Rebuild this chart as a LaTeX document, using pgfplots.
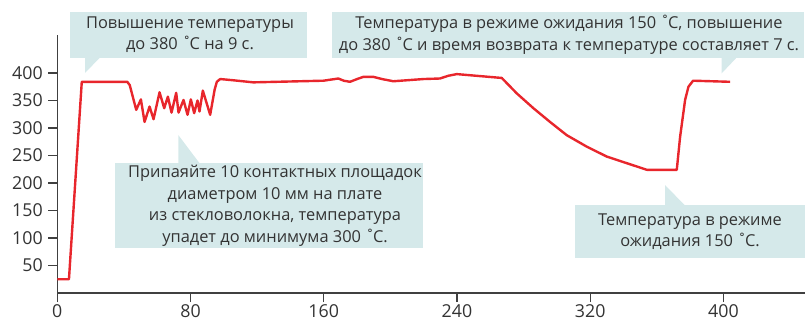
\documentclass[border=0pt]{standalone}
\usepackage{fontspec}
\setmainfont{Open Sans}
\usepackage{pgfplots}
\pgfplotsset{compat=1.18}
\definecolor{cred}{HTML}{E8262C}
\definecolor{boxcol}{HTML}{D5E9EA}
\definecolor{txtcol}{HTML}{333333}
\definecolor{axiscol}{HTML}{404040}
\newcommand{\degC}{˚\kern-1.8pt C}
\begin{document}
\begin{tikzpicture}[x=1pt,y=1pt]
\path[use as bounding box] (0,0) rectangle (805,327);
\begin{axis}[
  at={(57.3pt,34pt)}, anchor=south west, scale only axis,
  width=747.7pt, height=258.5pt,
  xmin=0, xmax=449, ymin=0, ymax=470,
  axis x line=bottom, axis y line=left,
  axis line style={-, draw=axiscol, line width=1.3pt},
  xtick={0,80,...,400}, ytick={50,100,...,400},
  tick style={draw=axiscol, line width=1.1pt},
  tick align=outside, major tick length=9pt,
  ticklabel style={font=\fontsize{17.8}{19}\selectfont, text=txtcol},
  yticklabel style={xshift=-2pt},
  xticklabel style={yshift=1pt},
  /pgf/number format/assume math mode=true,
]
\addplot[cred, line width=2.4pt, line join=round] coordinates {
(0,25) (7,25) (14.7,384) (42,384) (43.5,378) (47.4,333) (50.2,352) (52.4,311)
(55.4,339) (57.8,316) (61.4,365) (64.2,336) (66.4,357) (68.6,328) (71.4,364)
(72.8,328) (75.8,351) (78.2,324) (80.2,352) (82.2,327) (84.2,350) (85.4,330)
(87.4,368) (91.8,324) (94.5,370) (95.8,384) (97.8,389) (105,387) (117.7,383)
(131.8,384) (159.8,386) (168.8,390) (172,386) (175.8,384) (180,389) (183.8,393)
(189.8,393) (195,389) (201.8,385) (219.8,389) (229.8,390) (234.8,395) (239.9,398)
(266.9,391) (275.9,363) (285.9,336) (295.9,311) (305.9,287) (318,266) (330,248)
(342,236) (354,224) (372,224) (374,284) (377,351) (379,375) (381.8,386) (404,384)
};
\end{axis}
% callout 1
\fill[boxcol] (70,269) rectangle (307,315.3);
\fill[boxcol] (85,269.5) -- (100,269.5) -- (85,254) -- cycle;
\node[text=txtcol, font=\fontsize{16.4}{21.7}\selectfont, align=center] at (190,292.2)
  {Повышение температуры\\до 380 \degC{} на 9 с.};
% callout 2
\fill[boxcol] (331.7,269) rectangle (804,315.3);
\fill[boxcol] (721.7,269.5) -- (736.7,269.5) -- (721.7,253.7) -- cycle;
\node[text=txtcol, font=\fontsize{16.4}{21.7}\selectfont, align=center] at (569,292.2)
  {Температура в режиме ожидания 150 \degC, повышение\\до 380 \degC{} и время возврата к температуре составляет 7 с.};
% callout 3
\fill[boxcol] (115,78.7) rectangle (422.7,163.7);
\fill[boxcol] (178.3,163.2) -- (200,163.2) -- (178.3,192) -- cycle;
\node[text=txtcol, font=\fontsize{16.4}{21.7}\selectfont, align=center] at (275,121.2)
  {Припаяйте 10 контактных площадок\\диаметром 10 мм на плате\\из стекловолокна, температура\\упадет до минимума 300 \degC.};
% callout 4
\fill[boxcol] (575,68.7) rectangle (805,122);
\fill[boxcol] (665,121.5) -- (685,121.5) -- (665,142) -- cycle;
\node[text=txtcol, font=\fontsize{16.4}{21.7}\selectfont, align=center] at (690,95.3)
  {Температура в режиме\\ожидания 150 \degC.};
\end{tikzpicture}
\end{document}
